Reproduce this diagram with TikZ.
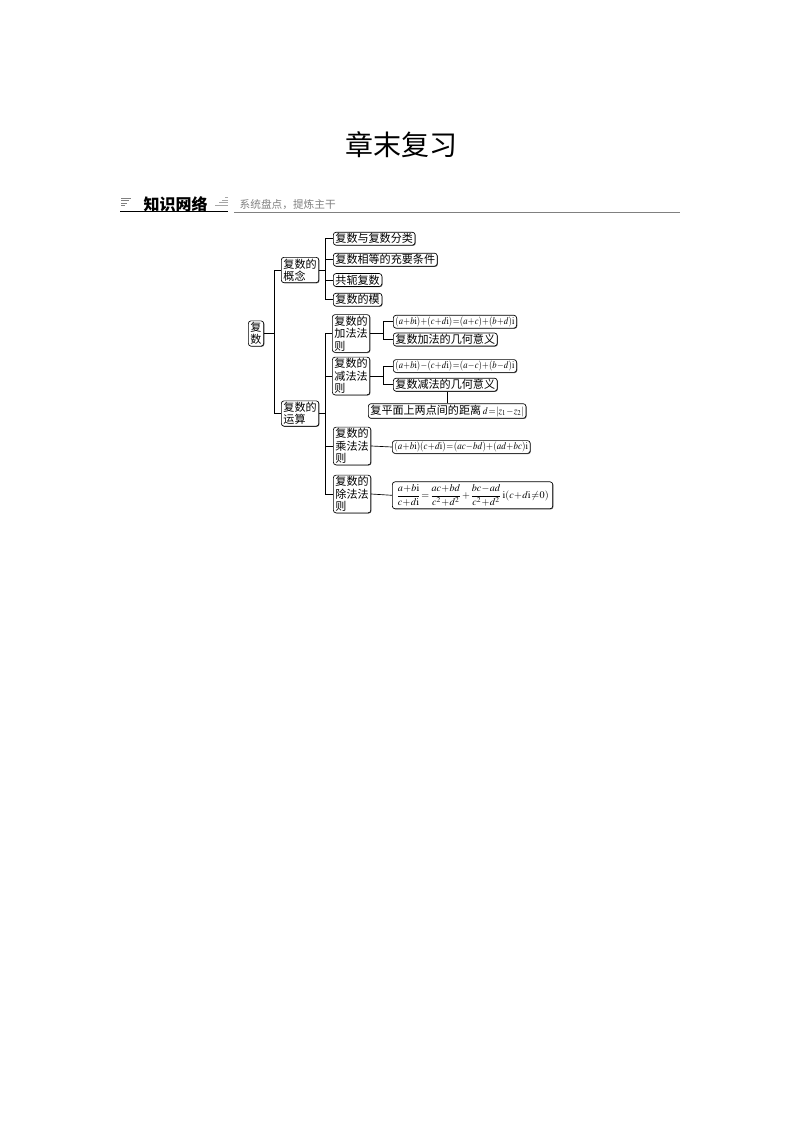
\documentclass[tikz,border=0pt]{standalone}
\usepackage{amsmath}
\usepackage{mathptmx}
\usepackage{fontspec}
\newfontfamily\cjk{Noto Sans CJK SC}
\usetikzlibrary{positioning, shadows}
% tight formula, optional horizontal squeeze
\newcommand\fm[2][1]{\scalebox{#1}[1]{\fontsize{7.6}{9}\selectfont$\medmuskip=0.5mu\thickmuskip=1mu #2$}}

\begin{document}
\begin{tikzpicture}[
  x=0.75pt, y=-0.75pt,
  every node/.style={font=\cjk\fontsize{8.3}{9.3}\selectfont},
  kbox/.style={draw, rounded corners=2pt, line width=0.5pt, fill=white, inner xsep=1.6pt, inner ysep=1pt,
    anchor=west, align=left, drop shadow={shadow xshift=0.5pt, shadow yshift=-0.5pt, fill=black!60, opacity=1}},
  link/.style={line width=0.5pt}
]
\useasboundingbox (0,0) rectangle (794,1123);

% Title
\node (title) at (401,145) {\fontsize{21}{24}\selectfont 章末复习};

% Section header
\node[anchor=west, font=\cjk\bfseries\fontsize{12}{14}\selectfont] (zswl) at (139,204) {知识网络};
\node[anchor=west, text=gray, font=\cjk\fontsize{8}{10}\selectfont] (xtpd) at (235,205) {系统盘点，提炼主干};
\draw[line width=0.8pt] (120,211.5) -- (228,211.5);
\draw[gray, line width=0.6pt] (234,212) -- (680,212);
% header icons
\foreach \y/\l in {198/10, 200.5/8, 203/6, 205.5/4}
  \draw[gray, line width=0.5pt] (121,\y) -- ++(\l,0);
\foreach \y/\l in {205/13, 202.5/9.5, 200/6, 197.5/3}
  \draw[gray!70, line width=0.5pt] (228,\y) -- ++(-\l,0);

% Root and first level
\node[kbox] (fs) at (248,333.5) {复\\数};
\node[kbox] (gn) at (281,270) {复数的\\概念};
\node[kbox] (ys) at (281,413.5) {复数的\\运算};

% Concept branch
\node[kbox] (g1) at (333,238.7) {复数与复数分类};
\node[kbox] (g2) at (333,259.7) {复数相等的充要条件};
\node[kbox] (g3) at (333,280) {共轭复数};
\node[kbox] (g4) at (333,299.7) {复数的模};

% Operation branch
\node[kbox] (jf) at (332,333.5) {复数的\\加法法\\则};
\node[kbox] (jian) at (332,376) {复数的\\减法法\\则};
\node[kbox] (cf) at (333,446) {复数的\\乘法法\\则};
\node[kbox] (cu) at (333,494) {复数的\\除法法\\则};

% Rules
\node[kbox] (f1) at (393,321.7) {\fm[0.85]{(a+b\mathrm{i})+(c+d\mathrm{i})=(a+c)+(b+d)\mathrm{i}}};
\node[kbox] (f2) at (393,339.5) {复数加法的几何意义};
\node[kbox] (f3) at (393,366) {\fm[0.85]{(a+b\mathrm{i})-(c+d\mathrm{i})=(a-c)+(b-d)\mathrm{i}}};
\node[kbox] (f4) at (393,384.7) {复数减法的几何意义};
\node[kbox] (f5) at (368,411) {复平面上两点间的距离\,\fm[0.9]{d=|z_1-z_2|}};
\node[kbox] (f6) at (392,447) {\fm[0.88]{(a+b\mathrm{i})(c+d\mathrm{i})=(ac-bd)+(ad+bc)\mathrm{i}}};
\node[kbox, inner ysep=2pt, inner xsep=3pt] (f7) at (392,495.3)
  {\fm{\dfrac{a+b\mathrm{i}}{c+d\mathrm{i}}=\dfrac{ac+bd}{c^2+d^2}+\dfrac{bc-ad}{c^2+d^2}\;\mathrm{i}(c+d\mathrm{i}\neq0)}};

% Connectors
\coordinate (tj) at (274,333.5);
\draw[link] (fs.east) -- (tj);
\draw[link] (tj) |- (gn.west);
\draw[link] (tj) |- (ys.west);

\coordinate (gj) at (325,270);
\draw[link] (gn.east) -- (gj);
\foreach \c in {g1,g2,g3,g4}
  \draw[link] (gj) |- (\c.west);

\coordinate (yj) at (325.5,413.5);
\draw[link] (ys.east) -- (yj);
\foreach \c in {jf,jian,cf,cu}
  \draw[link] (yj) |- (\c.west);

\coordinate (jfj) at (383,333.5);
\draw[link] (jf.east) -- (jfj);
\foreach \c in {f1,f2}
  \draw[link] (jfj) |- (\c.west);

\coordinate (jianj) at (383,376);
\draw[link] (jian.east) -- (jianj);
\foreach \c in {f3,f4}
  \draw[link] (jianj) |- (\c.west);

\draw[link] (f5.north |- f4.south) -- (f5.north);
\draw[link] (cf.east) -- (f6.west);
\draw[link] (cu.east) -- (f7.west);

\end{tikzpicture}
\end{document}
